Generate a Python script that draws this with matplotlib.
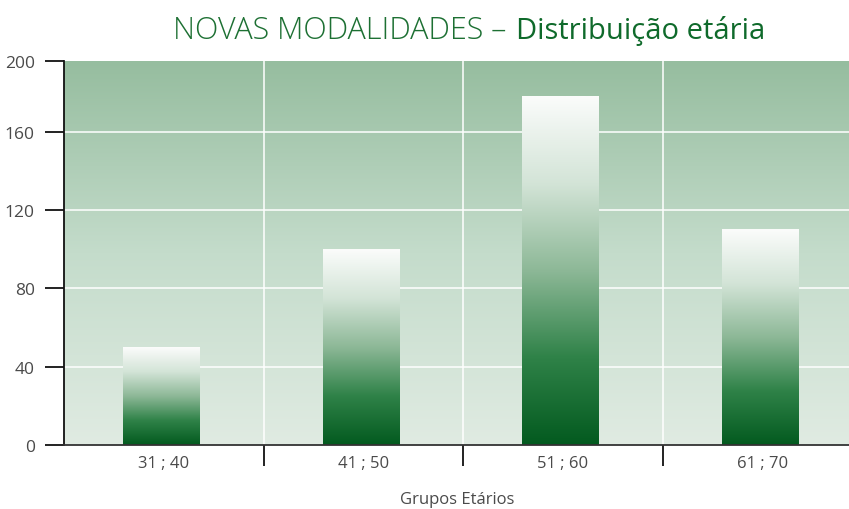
import numpy as np
import matplotlib.pyplot as plt
from matplotlib.colors import LinearSegmentedColormap

plt.rcParams['font.family'] = ['Open Sans', 'DejaVu Sans']

# dados
grupos = ['31 ; 40', '41 ; 50', '51 ; 60', '61 ; 70']
valores = [50, 100, 178, 110]
y_ticks = [0, 40, 80, 120, 160]
y_topo = 196  # topo da escala no original (rotulado "200")

W, H = 849, 510
fig = plt.figure(figsize=(W / 100, H / 100), dpi=100)
ax = fig.add_axes([64 / W, 64 / H, 798 / W, 384 / H])

x = np.arange(len(grupos))

# fundo em degradê
fundo = LinearSegmentedColormap.from_list('fundo', ['#e0ebe2', '#c4dccb', '#96bd9f'])
grad = np.linspace(0, 1, 256).reshape(-1, 1)
ax.imshow(grad, cmap=fundo, origin='lower', aspect='auto',
          extent=[-0.5, len(grupos) - 0.5, 0, y_topo], zorder=0)

# grade branca
for yv in y_ticks[1:]:
    ax.axhline(yv, color='white', lw=1.1, zorder=1)
for xv in x[:-1] + 0.5:
    ax.axvline(xv, color='white', lw=1.1, zorder=1)

# barras em degradê
barra_cm = LinearSegmentedColormap.from_list('barra', ['#035a1f', '#2f8248', '#8db897', '#d3e4d7', '#fbfcfb'])
larg = 0.385
barras = ax.bar(x - 0.01, valores, width=larg, color='none', zorder=2)
for b in barras:
    x0, y0 = b.get_x(), b.get_y()
    ax.imshow(grad, cmap=barra_cm, origin='lower', aspect='auto',
              extent=[x0, x0 + b.get_width(), y0, y0 + b.get_height()], zorder=2)
ax.set_xlim(-0.5, len(grupos) - 0.5)
ax.set_ylim(0, y_topo)

# eixos
for s in ['top', 'right']:
    ax.spines[s].set_visible(False)
ax.spines['left'].set_color('#111111')
ax.spines['left'].set_linewidth(1.3)
ax.spines['bottom'].set_color('#333333')
ax.spines['bottom'].set_linewidth(1.3)
ax.spines['left'].set_zorder(3)
ax.spines['bottom'].set_zorder(3)

ax.set_yticks(y_ticks + [y_topo])
ax.set_yticklabels([str(v) for v in y_ticks] + ['200'])
ax.tick_params(axis='y', length=14, width=1.3, color='#111111', labelsize=12.5,
               labelcolor='#4a4a4a', pad=7)

ax.set_xticks(x[:-1] + 0.5, minor=False)
ax.set_xticklabels([])
ax.tick_params(axis='x', which='major', direction='out', length=15, width=1.3, color='#111111')
ax.set_xticks(x, minor=True)
ax.set_xticklabels(grupos, minor=True)
ax.tick_params(axis='x', which='minor', length=0, labelsize=12, labelcolor='#4a4a4a', pad=7)

fig.text(457 / W, 1 - 500 / H, 'Grupos Etários', ha='center', va='center',
         fontsize=12, color='#4a4a4a')

# título com duas espessuras
fig.text(506 / W, 1 - 31 / H, 'NOVAS MODALIDADES –', ha='right', va='center',
         fontsize=22, color='#1d7033', fontweight='light')
fig.text(516 / W, 1 - 31 / H, 'Distribuição etária', ha='left', va='center',
         fontsize=21, color='#0f6a2b', fontweight='medium')

fig.savefig('out.png', dpi=100)
